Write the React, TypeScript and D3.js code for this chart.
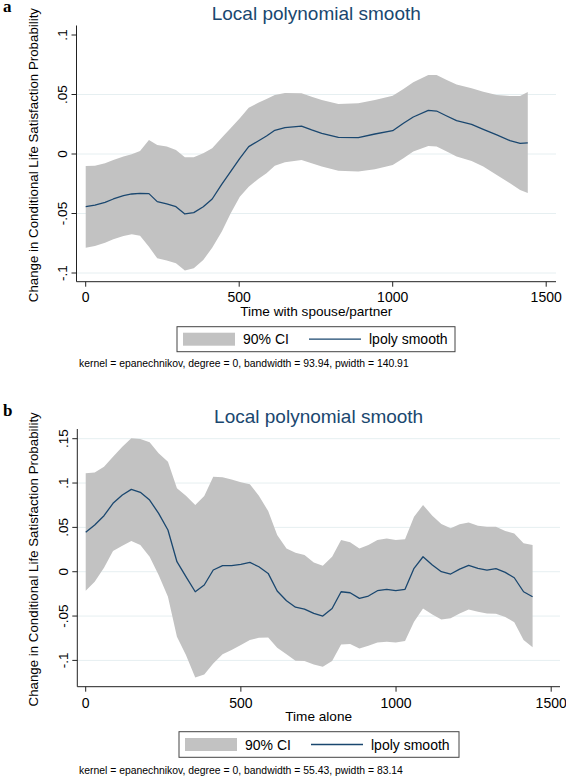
import React from "react";
import * as d3 from "d3";

// ---------- Data: panel a (Time with spouse/partner) ----------
const xA = [0, 30, 63, 90, 123, 150, 177, 206, 233, 264, 294, 323, 352, 383, 412, 443, 472, 502, 531, 562,
  589, 616, 649, 703, 736, 769, 823, 888, 942, 1000, 1035, 1067, 1116, 1143, 1176, 1208, 1257, 1295, 1339, 1382, 1415, 1440];
const meanA = [-0.0443, -0.0429, -0.0406, -0.0378, -0.035, -0.0336, -0.0331, -0.0333, -0.040, -0.042,
  -0.0443, -0.0504, -0.0493, -0.0443, -0.0378, -0.0255, -0.0148, -0.0036, 0.0062, 0.0109,
  0.0151, 0.0199, 0.0221, 0.0235, 0.0202, 0.0174, 0.014, 0.0137, 0.0168, 0.0196,
  0.0258, 0.0311, 0.0367, 0.0361, 0.0319, 0.028, 0.0249, 0.0207, 0.016, 0.0112, 0.009, 0.0093];
const upperA = [-0.0101, -0.0098, -0.0078, -0.005, -0.0022, -0.0003, 0.0025, 0.0118, 0.0076, 0.0062,
  0.0034, -0.0028, -0.0028, 0.0006, 0.0048, 0.0137, 0.0216, 0.030, 0.0389, 0.0431,
  0.0462, 0.0496, 0.0513, 0.051, 0.0482, 0.0454, 0.042, 0.0426, 0.0454, 0.049,
  0.0546, 0.0602, 0.0664, 0.0664, 0.0622, 0.0585, 0.0552, 0.0524, 0.0496, 0.0487, 0.0487, 0.052];
const lowerA = [-0.0787, -0.0773, -0.0745, -0.0717, -0.0689, -0.0675, -0.0686, -0.0779, -0.0877, -0.0896,
  -0.0919, -0.098, -0.0961, -0.0891, -0.0787, -0.0653, -0.0499, -0.0359, -0.0275, -0.021,
  -0.0162, -0.0098, -0.007, -0.005, -0.0078, -0.0106, -0.014, -0.0148, -0.0129, -0.0092,
  -0.0036, 0.002, 0.0067, 0.0062, 0.002, -0.0022, -0.0059, -0.0106, -0.0176, -0.0246, -0.0303, -0.0327];

// ---------- Data: panel b (Time alone) ----------
const xB = [0, 29, 59, 88, 118, 147, 176, 206, 235, 265, 294, 323, 353, 382, 411, 441, 470, 500, 529, 558,
  588, 617, 647, 676, 705, 735, 764, 794, 823, 852, 882, 911, 940, 970, 999, 1029, 1058, 1087, 1117, 1146,
  1176, 1205, 1234, 1264, 1293, 1322, 1352, 1381, 1411, 1440];
const meanB = [0.0444, 0.0526, 0.0632, 0.0771, 0.0865, 0.0929, 0.0895, 0.0808, 0.0658, 0.047,
  0.0113, -0.0056, -0.0226, -0.015, 0.0019, 0.0068, 0.0068, 0.0083, 0.0105, 0.0056,
  -0.0019, -0.0218, -0.0327, -0.04, -0.0421, -0.047, -0.05, -0.0414, -0.0226, -0.0237,
  -0.0301, -0.0274, -0.0214, -0.0199, -0.0214, -0.0199, 0.0038, 0.0169, 0.0075, 0,
  -0.0026, 0.003, 0.0072, 0.0038, 0.0019, 0.0034, -0.0008, -0.0068, -0.0226, -0.0282];
const upperB = [0.1109, 0.112, 0.1184, 0.1297, 0.141, 0.1504, 0.1496, 0.1459, 0.1335, 0.124,
  0.094, 0.0857, 0.0752, 0.0853, 0.1071, 0.1064, 0.1041, 0.1008, 0.0985, 0.0857,
  0.0684, 0.0414, 0.0263, 0.0215, 0.0188, 0.0105, 0.0068, 0.0169, 0.0357, 0.0331,
  0.0263, 0.0301, 0.0357, 0.0376, 0.0357, 0.0365, 0.062, 0.0752, 0.0632, 0.0538,
  0.0489, 0.0534, 0.0556, 0.0519, 0.0508, 0.0508, 0.0459, 0.0432, 0.032, 0.030];
const lowerB = [-0.0214, -0.0113, 0.0045, 0.0233, 0.0293, 0.0346, 0.0301, 0.0169, -0.0038, -0.0282,
  -0.0733, -0.094, -0.1192, -0.1158, -0.1034, -0.0932, -0.0883, -0.0827, -0.0771, -0.0744,
  -0.0741, -0.0857, -0.0932, -0.1005, -0.1008, -0.1045, -0.1071, -0.1008, -0.082, -0.0816,
  -0.0865, -0.0835, -0.0797, -0.0789, -0.0797, -0.0782, -0.0564, -0.0414, -0.0481, -0.0538,
  -0.0526, -0.047, -0.0425, -0.0451, -0.047, -0.0475, -0.051, -0.057, -0.077, -0.0853];

// ---------- Ticks / labels ----------
const xTicks = [0, 500, 1000, 1500];
const yTicksA = [-0.1, -0.05, 0, 0.05, 0.1];
const yTicksB = [-0.1, -0.05, 0, 0.05, 0.1, 0.15];
const fmtY = (v: number) => {
  if (v === 0) return "0";
  const s = String(Math.round(v * 100) / 100);
  return s.replace("0.", ".");
};

const TITLE = "Local polynomial smooth";
const YLABEL = "Change in Conditional Life Satisfaction Probability";
const LEG_CI = "90% CI";
const LEG_LINE = "lpoly smooth";

const NAVY = "#1a476f";
const BAND = "#c2c2c2";
const GRID = "#e6eff1";
const SANS = "'Liberation Sans', Arial, Helvetica, sans-serif";
const SERIF = "'Liberation Serif', 'Times New Roman', serif";

type PanelProps = {
  letter: string;
  letterY: number;
  xs: number[]; mean: number[]; lo: number[]; hi: number[];
  yTicks: number[];
  yDomain: [number, number];
  yRange: [number, number];
  xRange: [number, number];
  plot: { left: number; right: number; top: number; bottom: number };
  gridTicks: number[];
  xTitle: string;
  titleY: number;
  tickLabelY: number;
  xTitleY: number;
  legend: { left: number; right: number; top: number; bottom: number };
  note: string;
  noteY: number;
};

function Panel(p: PanelProps) {
  const x = d3.scaleLinear().domain([0, 1500]).range(p.xRange);
  const y = d3.scaleLinear().domain(p.yDomain).range(p.yRange);
  const idx = p.xs.map((_, i) => i);
  const area = d3.area<number>()
    .x((i) => x(p.xs[i]))
    .y0((i) => y(p.lo[i]))
    .y1((i) => y(p.hi[i]));
  const line = d3.line<number>()
    .x((i) => x(p.xs[i]))
    .y((i) => y(p.mean[i]));
  const { left, right, top, bottom } = p.plot;
  const cx = (left + right) / 2;
  const cy = (top + bottom) / 2;
  const L = p.legend;
  const lmid = (L.top + L.bottom) / 2;
  return (
    <g>
      <text x={3} y={p.letterY} fontFamily={SERIF} fontWeight="bold" fontSize={17} fill="#000">{p.letter}</text>
      <text x={cx} y={p.titleY} textAnchor="middle" fontFamily={SANS} fontSize={19} fill={NAVY}>{TITLE}</text>
      {/* grid */}
      {p.gridTicks.map((t) => (
        <line key={"g" + t} x1={left} x2={right} y1={y(t)} y2={y(t)} stroke={GRID} strokeWidth={1} />
      ))}
      {/* band and line */}
      <path d={area(idx) || ""} fill={BAND} stroke="none" />
      <path d={line(idx) || ""} fill="none" stroke={NAVY} strokeWidth={1.3} strokeLinejoin="round" />
      {/* axes */}
      <line x1={left} x2={left} y1={top} y2={bottom} stroke="#222" strokeWidth={1} />
      <line x1={left} x2={right} y1={bottom} y2={bottom} stroke="#222" strokeWidth={1} />
      {p.yTicks.map((t) => (
        <g key={"y" + t}>
          <line x1={left - 5} x2={left} y1={y(t)} y2={y(t)} stroke="#222" strokeWidth={1} />
          <text transform={`translate(${left - 9.5},${y(t)}) rotate(-90)`} textAnchor="middle"
            fontFamily={SANS} fontSize={13.5} fill="#000">{fmtY(t)}</text>
        </g>
      ))}
      {xTicks.map((t) => (
        <g key={"x" + t}>
          <line x1={x(t)} x2={x(t)} y1={bottom} y2={bottom + 5} stroke="#222" strokeWidth={1} />
          <text x={x(t)} y={p.tickLabelY} textAnchor="middle" fontFamily={SANS} fontSize={14} fill="#000">{t}</text>
        </g>
      ))}
      <text transform={`translate(38,${cy + 1.5}) rotate(-90)`} textAnchor="middle" fontFamily={SANS} fontSize={13.3} fill="#000">{YLABEL}</text>
      <text x={cx} y={p.xTitleY} textAnchor="middle" fontFamily={SANS} fontSize={13.6} fill="#000">{p.xTitle}</text>
      {/* legend */}
      <rect x={L.left} y={L.top} width={L.right - L.left} height={L.bottom - L.top} fill="#fff" stroke="#444" strokeWidth={1} />
      <rect x={L.left + 6} y={lmid - 6.5} width={52} height={13} fill={BAND} />
      <text x={L.left + 66} y={lmid + 5} fontFamily={SANS} fontSize={14} fill="#000">{LEG_CI}</text>
      <line x1={L.left + 132} x2={L.left + 184} y1={lmid} y2={lmid} stroke={NAVY} strokeWidth={1.3} />
      <text x={L.left + 192} y={lmid + 5} fontFamily={SANS} fontSize={14} fill="#000">{LEG_LINE}</text>
      <text x={79} y={p.noteY} fontFamily={SANS} fontSize={10.4} fill="#000">{p.note}</text>
    </g>
  );
}

export default function App() {
  return (
    <svg width={566} height={776} viewBox="0 0 566 776"
      style={{ position: "absolute", left: 0, top: 0, background: "#fff" }}>
      <rect x={0} y={0} width={566} height={776} fill="#fff" />
      <Panel
        letter="a" letterY={11.5}
        xs={xA} mean={meanA} lo={lowerA} hi={upperA}
        yTicks={yTicksA} gridTicks={[-0.1, -0.05, 0, 0.05]}
        yDomain={[-0.1, 0.1]} yRange={[273, 35]}
        xRange={[85.7, 546.2]}
        plot={{ left: 76.5, right: 556, top: 25.5, bottom: 281.7 }}
        xTitle="Time with spouse/partner"
        titleY={20} tickLabelY={301.7} xTitleY={316.3}
        legend={{ left: 177, right: 455, top: 326.7, bottom: 351.7 }}
        note="kernel = epanechnikov, degree = 0, bandwidth = 93.94, pwidth = 140.91"
        noteY={367.3}
      />
      <Panel
        letter="b" letterY={416}
        xs={xB} mean={meanB} lo={lowerB} hi={upperB}
        yTicks={yTicksB} gridTicks={[-0.1, -0.05, 0, 0.05, 0.1, 0.15]}
        yDomain={[-0.1, 0.15]} yRange={[660.4, 438.7]}
        xRange={[85.7, 551.2]}
        plot={{ left: 77.3, right: 560, top: 429, bottom: 686.7 }}
        xTitle="Time alone"
        titleY={423} tickLabelY={708.3} xTitleY={720.7}
        legend={{ left: 179, right: 459, top: 731.7, bottom: 757.3 }}
        note="kernel = epanechnikov, degree = 0, bandwidth = 55.43, pwidth = 83.14"
        noteY={773.8}
      />
    </svg>
  );
}
